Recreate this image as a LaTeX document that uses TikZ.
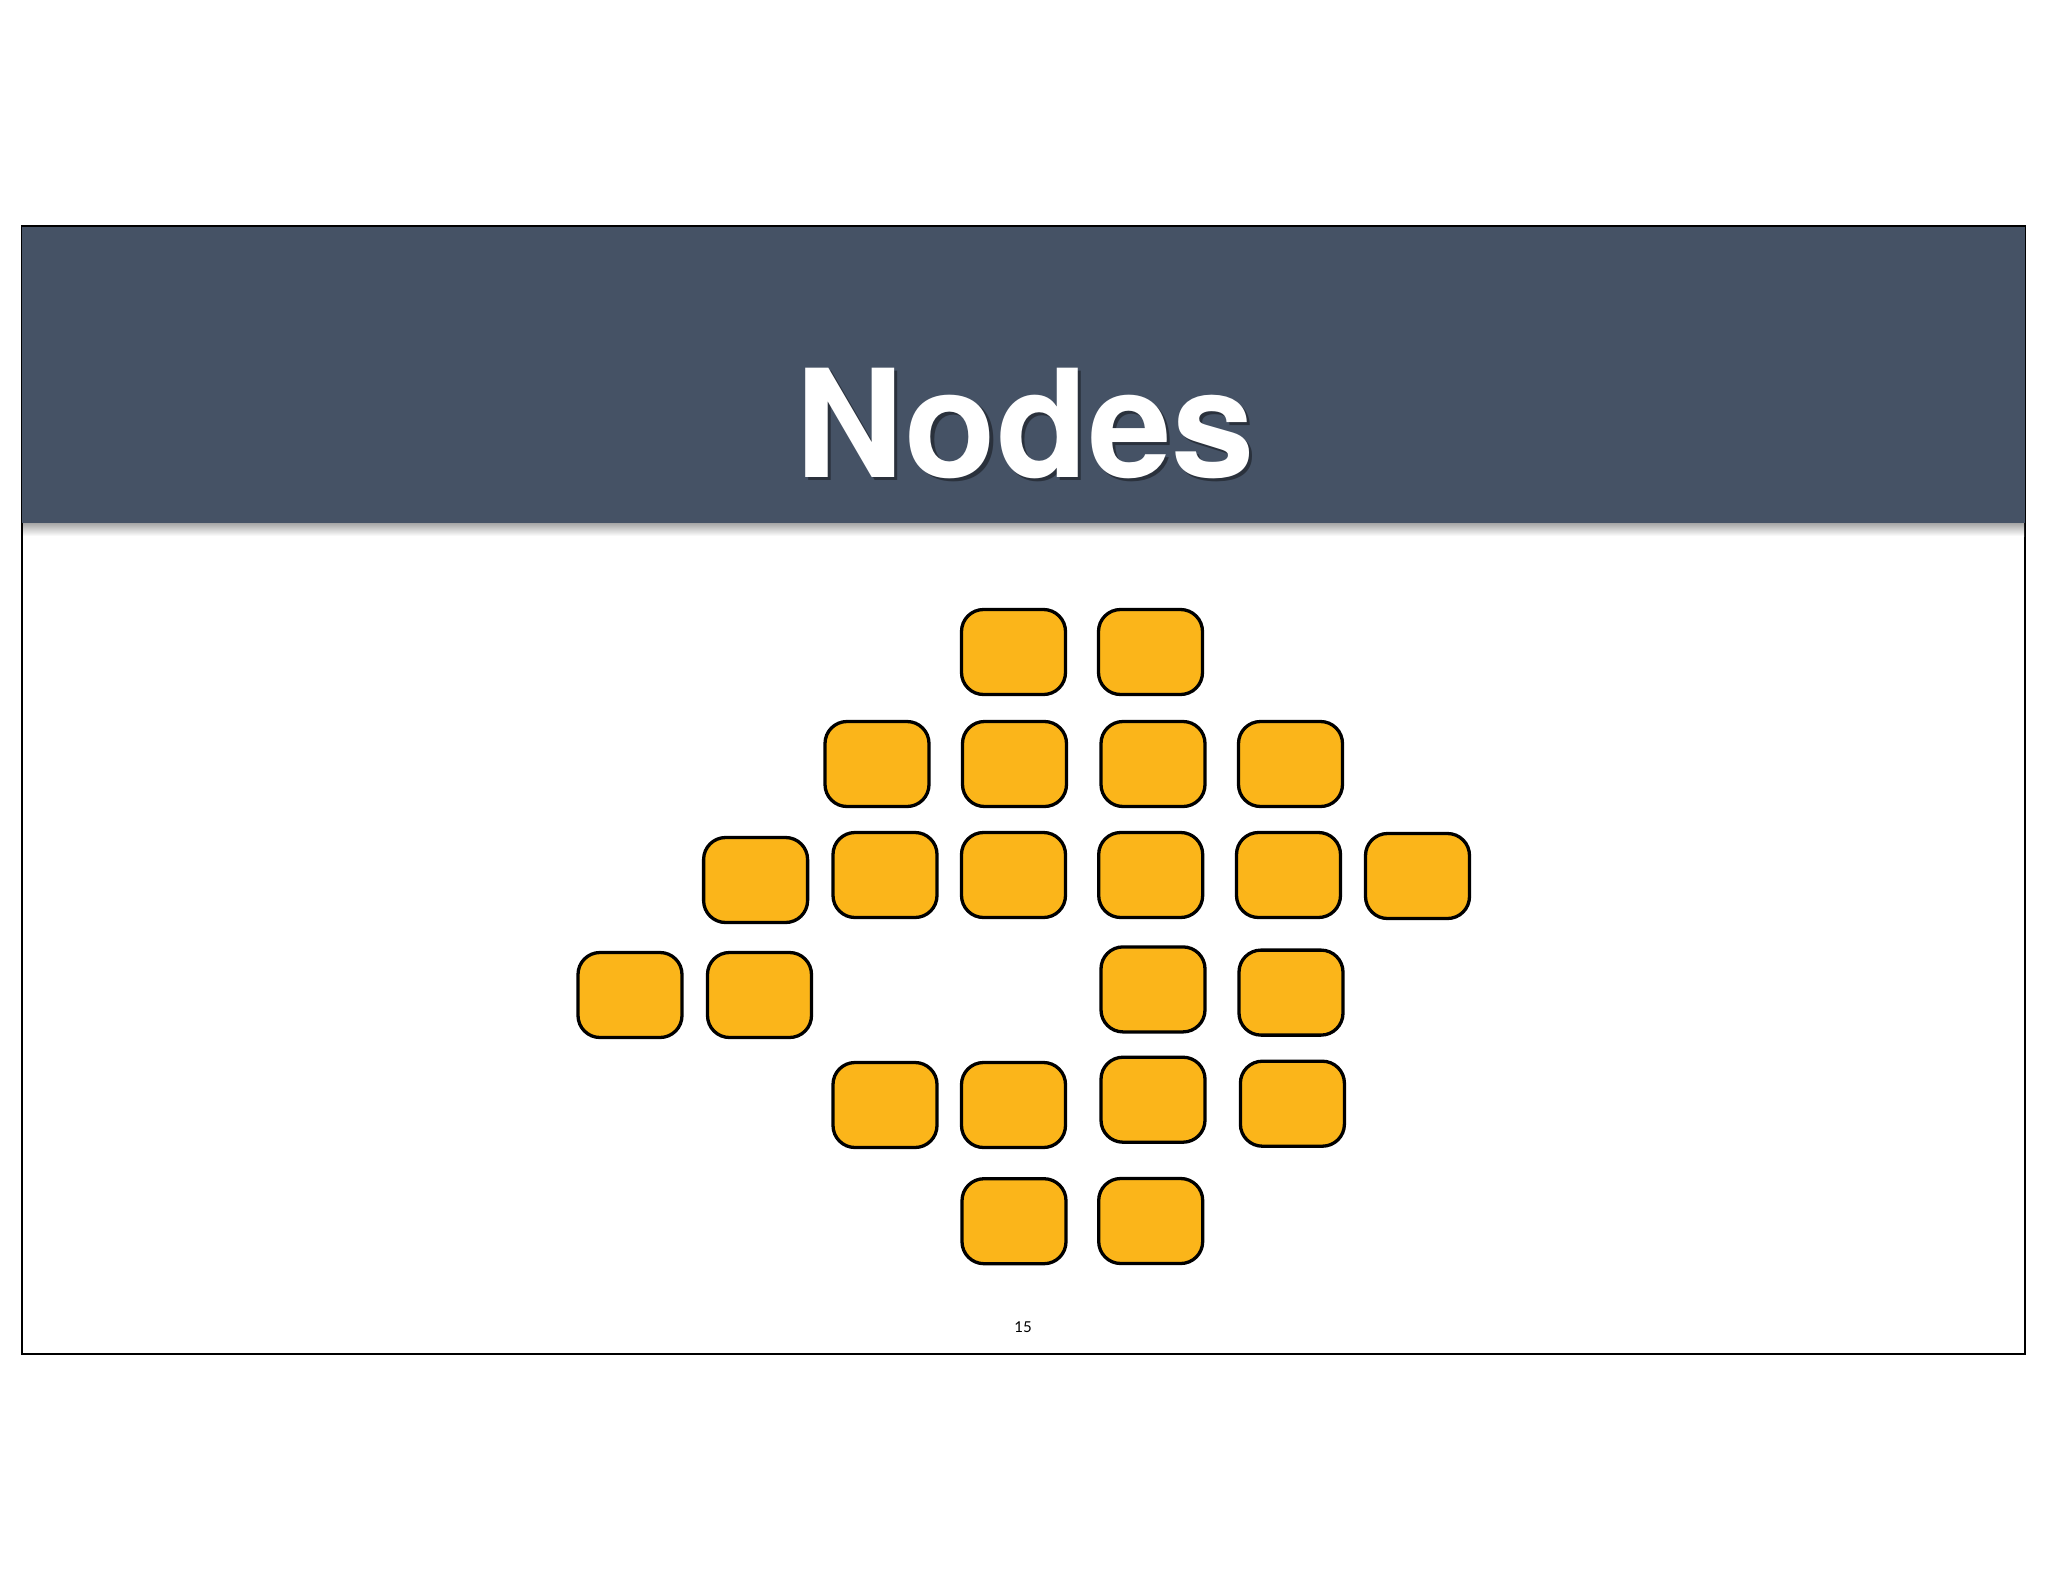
\documentclass[tikz,border=0pt]{standalone}
\usepackage{fontspec}
\setmainfont{TeX Gyre Heros}
\newfontfamily\pagefont{Lato}
\definecolor{headerblue}{RGB}{69,82,101}
\definecolor{titleshadow}{RGB}{42,49,60}
\definecolor{boxfill}{RGB}{251,181,26}
\newcommand{\shadowedword}[1]{\rlap{\hspace{3.5pt}\raisebox{-3.5pt}{\textcolor{titleshadow}{#1}}}\textcolor{white}{#1}}
\begin{document}
\begin{tikzpicture}[x=1pt,y=-1pt,
  cell/.style={draw=black,fill=boxfill,line width=3.3pt,rounded corners=22pt,
    minimum width=104pt,minimum height=85pt,inner sep=0pt},
  titlefont/.style={anchor=base,inner sep=0pt,font=\fontsize{150}{150}\selectfont\bfseries}]
\useasboundingbox (0,0) rectangle (2048,1582);
\fill[white] (0,0) rectangle (2048,1582);
% slide frame
\draw[line width=1.5pt,black] (22,226) rectangle (2025,1354);
% header shadow
\shade[top color=black!35,bottom color=white] (23,523) rectangle (2024,536);
% header
\fill[headerblue] (22,226) rectangle (2025,523);
\draw[line width=1.5pt,black] (22,226) -- (2025,226);
% title with shadow
\node[titlefont] (title) at (1025,477) {\shadowedword{Nodes}};
% boxes
\node[cell] (a1) at (1013.5,652) {};
\node[cell] (a2) at (1150.5,652) {};
\node[cell] (b1) at (877,764) {};
\node[cell] (b2) at (1014.5,764) {};
\node[cell] (b3) at (1153,764) {};
\node[cell] (b4) at (1290.5,764) {};
\node[cell] (c1) at (755.6,880) {};
\node[cell] (c2) at (885,875) {};
\node[cell] (c3) at (1013.5,875) {};
\node[cell] (c4) at (1150.7,875) {};
\node[cell] (c5) at (1288.5,875) {};
\node[cell] (c6) at (1417.5,876) {};
\node[cell] (d1) at (630,995) {};
\node[cell] (d2) at (759.5,995) {};
\node[cell] (d3) at (1153,989.4) {};
\node[cell] (d4) at (1291,992.6) {};
\node[cell] (e1) at (885,1105) {};
\node[cell] (e2) at (1013.5,1105) {};
\node[cell] (e3) at (1153,1099.7) {};
\node[cell] (e4) at (1292.4,1103.7) {};
\node[cell] (f1) at (1014,1221.2) {};
\node[cell] (f2) at (1150.7,1221) {};
% page number
\node[font=\pagefont\fontsize{15}{15}\selectfont,inner sep=0pt] (pagenum) at (1023,1327) {15};
\end{tikzpicture}
\end{document}
